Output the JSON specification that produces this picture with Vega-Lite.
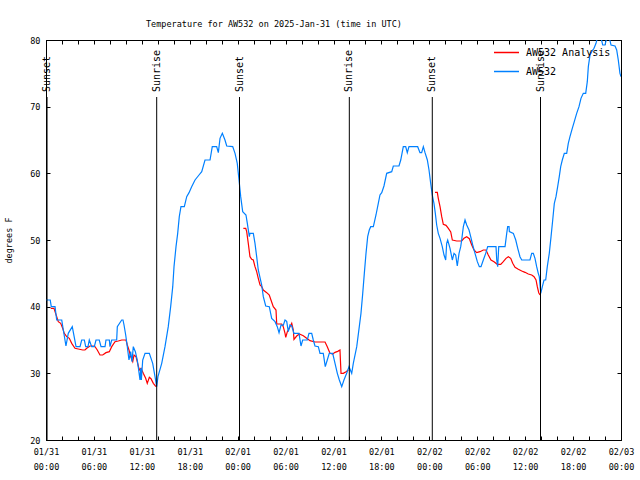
{
  "$schema": "https://vega.github.io/schema/vega-lite/v6.json",
  "width": 575,
  "height": 400,
  "autosize": {"type": "none"},
  "padding": {"left": 46, "top": 40, "right": 19, "bottom": 40},
  "background": "white",
  "title": {"text": "Temperature for AW532 on 2025-Jan-31 (time in UTC)", "anchor": "start", "frame": "group", "dx": 100, "offset": 8, "font": "DejaVu Sans Mono", "fontSize": 8.5, "fontWeight": "normal", "color": "black"},
  "config": {
    "view": {"stroke": "black", "strokeWidth": 1},
    "axis": {"domainColor": "black", "tickColor": "black", "labelColor": "black", "labelFont": "DejaVu Sans Mono", "labelFontSize": 8.5, "grid": false, "tickSize": -4, "tickWidth": 1, "titleFont": "DejaVu Sans Mono", "titleFontWeight": "normal", "titleFontSize": 8.5, "titleColor": "black"},
    "legend": {"labelFont": "DejaVu Sans Mono", "labelFontSize": 10, "labelColor": "black"}
  },
  "datasets": {
    "temps": [
      {"s":"AW532 Analysis","g":1,"h":0.59,"t":39.75},{"s":"AW532 Analysis","g":1,"h":1.0,"t":39.75},{"s":"AW532 Analysis","g":1,"h":1.13,"t":39.25},{"s":"AW532 Analysis","g":1,"h":1.34,"t":38.5},{"s":"AW532 Analysis","g":1,"h":1.54,"t":37.75},{"s":"AW532 Analysis","g":1,"h":1.84,"t":37.5},{"s":"AW532 Analysis","g":1,"h":2.09,"t":36.75},{"s":"AW532 Analysis","g":1,"h":2.29,"t":36.0},{"s":"AW532 Analysis","g":1,"h":2.59,"t":35.5},{"s":"AW532 Analysis","g":1,"h":2.92,"t":35.25},{"s":"AW532 Analysis","g":1,"h":3.22,"t":34.5},{"s":"AW532 Analysis","g":1,"h":3.63,"t":33.75},{"s":"AW532 Analysis","g":1,"h":4.04,"t":33.65},{"s":"AW532 Analysis","g":1,"h":4.6,"t":33.5},{"s":"AW532 Analysis","g":1,"h":4.88,"t":33.5},{"s":"AW532 Analysis","g":1,"h":5.1,"t":33.75},{"s":"AW532 Analysis","g":1,"h":5.51,"t":34.1},{"s":"AW532 Analysis","g":1,"h":5.92,"t":34.1},{"s":"AW532 Analysis","g":1,"h":6.14,"t":34.0},{"s":"AW532 Analysis","g":1,"h":6.42,"t":33.5},{"s":"AW532 Analysis","g":1,"h":6.76,"t":32.75},{"s":"AW532 Analysis","g":1,"h":7.1,"t":32.75},{"s":"AW532 Analysis","g":1,"h":7.51,"t":33.1},{"s":"AW532 Analysis","g":1,"h":7.93,"t":33.25},{"s":"AW532 Analysis","g":1,"h":8.23,"t":34.0},{"s":"AW532 Analysis","g":1,"h":8.64,"t":34.75},{"s":"AW532 Analysis","g":1,"h":9.05,"t":34.85},{"s":"AW532 Analysis","g":1,"h":9.48,"t":35.0},{"s":"AW532 Analysis","g":1,"h":10.02,"t":35.0},{"s":"AW532 Analysis","g":1,"h":10.18,"t":34.25},{"s":"AW532 Analysis","g":1,"h":10.39,"t":33.5},{"s":"AW532 Analysis","g":1,"h":10.6,"t":32.5},{"s":"AW532 Analysis","g":1,"h":10.86,"t":31.75},{"s":"AW532 Analysis","g":1,"h":11.02,"t":32.75},{"s":"AW532 Analysis","g":1,"h":11.27,"t":32.5},{"s":"AW532 Analysis","g":1,"h":11.48,"t":31.5},{"s":"AW532 Analysis","g":1,"h":11.68,"t":30.5},{"s":"AW532 Analysis","g":1,"h":11.9,"t":30.75},{"s":"AW532 Analysis","g":1,"h":12.18,"t":30.0},{"s":"AW532 Analysis","g":1,"h":12.48,"t":29.25},{"s":"AW532 Analysis","g":1,"h":12.68,"t":28.5},{"s":"AW532 Analysis","g":1,"h":12.94,"t":29.4},{"s":"AW532 Analysis","g":1,"h":13.15,"t":29.2},{"s":"AW532 Analysis","g":1,"h":13.44,"t":28.5},{"s":"AW532 Analysis","g":1,"h":13.77,"t":28.0},
      {"s":"AW532 Analysis","g":2,"h":24.71,"t":51.75},{"s":"AW532 Analysis","g":2,"h":25.01,"t":51.75},{"s":"AW532 Analysis","g":2,"h":25.13,"t":51.25},{"s":"AW532 Analysis","g":2,"h":25.33,"t":49.5},{"s":"AW532 Analysis","g":2,"h":25.54,"t":47.5},{"s":"AW532 Analysis","g":2,"h":25.76,"t":47.1},{"s":"AW532 Analysis","g":2,"h":25.96,"t":47.0},{"s":"AW532 Analysis","g":2,"h":26.17,"t":46.0},{"s":"AW532 Analysis","g":2,"h":26.38,"t":45.25},{"s":"AW532 Analysis","g":2,"h":26.58,"t":44.25},{"s":"AW532 Analysis","g":2,"h":26.8,"t":43.25},{"s":"AW532 Analysis","g":2,"h":27.01,"t":43.0},{"s":"AW532 Analysis","g":2,"h":27.21,"t":42.5},{"s":"AW532 Analysis","g":2,"h":27.64,"t":42.1},{"s":"AW532 Analysis","g":2,"h":27.96,"t":41.75},{"s":"AW532 Analysis","g":2,"h":28.17,"t":41.0},{"s":"AW532 Analysis","g":2,"h":28.46,"t":40.0},{"s":"AW532 Analysis","g":2,"h":28.8,"t":39.5},{"s":"AW532 Analysis","g":2,"h":28.89,"t":37.4},{"s":"AW532 Analysis","g":2,"h":29.51,"t":37.4},{"s":"AW532 Analysis","g":2,"h":29.71,"t":37.0},{"s":"AW532 Analysis","g":2,"h":29.93,"t":36.0},{"s":"AW532 Analysis","g":2,"h":30.02,"t":35.4},{"s":"AW532 Analysis","g":2,"h":30.22,"t":36.25},{"s":"AW532 Analysis","g":2,"h":30.47,"t":36.75},{"s":"AW532 Analysis","g":2,"h":30.77,"t":37.5},{"s":"AW532 Analysis","g":2,"h":30.97,"t":36.5},{"s":"AW532 Analysis","g":2,"h":31.05,"t":35.1},{"s":"AW532 Analysis","g":2,"h":31.39,"t":35.6},{"s":"AW532 Analysis","g":2,"h":31.72,"t":35.9},{"s":"AW532 Analysis","g":2,"h":32.22,"t":35.65},{"s":"AW532 Analysis","g":2,"h":32.64,"t":35.25},{"s":"AW532 Analysis","g":2,"h":33.06,"t":34.9},{"s":"AW532 Analysis","g":2,"h":33.68,"t":34.7},{"s":"AW532 Analysis","g":2,"h":34.94,"t":34.7},{"s":"AW532 Analysis","g":2,"h":35.22,"t":34.0},{"s":"AW532 Analysis","g":2,"h":35.56,"t":33.0},{"s":"AW532 Analysis","g":2,"h":35.9,"t":32.9},{"s":"AW532 Analysis","g":2,"h":36.19,"t":33.15},{"s":"AW532 Analysis","g":2,"h":36.53,"t":33.3},{"s":"AW532 Analysis","g":2,"h":36.81,"t":33.5},{"s":"AW532 Analysis","g":2,"h":36.94,"t":30.0},{"s":"AW532 Analysis","g":2,"h":37.23,"t":30.0},{"s":"AW532 Analysis","g":2,"h":37.57,"t":30.25},{"s":"AW532 Analysis","g":2,"h":37.85,"t":30.5},
      {"s":"AW532 Analysis","g":3,"h":48.71,"t":57.15},{"s":"AW532 Analysis","g":3,"h":49.0,"t":57.15},{"s":"AW532 Analysis","g":3,"h":49.12,"t":56.25},{"s":"AW532 Analysis","g":3,"h":49.34,"t":55.0},{"s":"AW532 Analysis","g":3,"h":49.55,"t":53.5},{"s":"AW532 Analysis","g":3,"h":49.75,"t":52.35},{"s":"AW532 Analysis","g":3,"h":50.09,"t":52.2},{"s":"AW532 Analysis","g":3,"h":50.38,"t":51.75},{"s":"AW532 Analysis","g":3,"h":50.68,"t":51.2},{"s":"AW532 Analysis","g":3,"h":50.88,"t":50.0},{"s":"AW532 Analysis","g":3,"h":51.43,"t":49.85},{"s":"AW532 Analysis","g":3,"h":52.05,"t":49.85},{"s":"AW532 Analysis","g":3,"h":52.34,"t":50.25},{"s":"AW532 Analysis","g":3,"h":52.68,"t":50.5},{"s":"AW532 Analysis","g":3,"h":53.01,"t":50.2},{"s":"AW532 Analysis","g":3,"h":53.31,"t":49.25},{"s":"AW532 Analysis","g":3,"h":53.59,"t":48.5},{"s":"AW532 Analysis","g":3,"h":53.93,"t":48.1},{"s":"AW532 Analysis","g":3,"h":54.34,"t":48.25},{"s":"AW532 Analysis","g":3,"h":54.76,"t":48.5},{"s":"AW532 Analysis","g":3,"h":55.1,"t":48.5},{"s":"AW532 Analysis","g":3,"h":55.38,"t":47.75},{"s":"AW532 Analysis","g":3,"h":55.72,"t":47.0},{"s":"AW532 Analysis","g":3,"h":56.1,"t":46.75},{"s":"AW532 Analysis","g":3,"h":56.51,"t":46.35},{"s":"AW532 Analysis","g":3,"h":56.94,"t":46.35},{"s":"AW532 Analysis","g":3,"h":57.26,"t":46.75},{"s":"AW532 Analysis","g":3,"h":57.6,"t":47.25},{"s":"AW532 Analysis","g":3,"h":57.89,"t":47.5},{"s":"AW532 Analysis","g":3,"h":58.19,"t":47.25},{"s":"AW532 Analysis","g":3,"h":58.44,"t":46.5},{"s":"AW532 Analysis","g":3,"h":58.73,"t":45.9},{"s":"AW532 Analysis","g":3,"h":59.14,"t":45.6},{"s":"AW532 Analysis","g":3,"h":59.57,"t":45.35},{"s":"AW532 Analysis","g":3,"h":59.98,"t":45.15},{"s":"AW532 Analysis","g":3,"h":60.39,"t":44.9},{"s":"AW532 Analysis","g":3,"h":60.82,"t":44.75},{"s":"AW532 Analysis","g":3,"h":61.11,"t":44.5},{"s":"AW532 Analysis","g":3,"h":61.36,"t":44.0},{"s":"AW532 Analysis","g":3,"h":61.52,"t":43.0},{"s":"AW532 Analysis","g":3,"h":61.7,"t":42.1},{"s":"AW532 Analysis","g":3,"h":61.86,"t":41.75},
      {"s":"AW532","g":0,"h":0.0,"t":41.0},{"s":"AW532","g":0,"h":0.29,"t":41.0},{"s":"AW532","g":0,"h":0.53,"t":41.0},{"s":"AW532","g":0,"h":0.66,"t":40.0},{"s":"AW532","g":0,"h":1.13,"t":40.0},{"s":"AW532","g":0,"h":1.34,"t":38.0},{"s":"AW532","g":0,"h":1.97,"t":38.0},{"s":"AW532","g":0,"h":2.17,"t":36.5},{"s":"AW532","g":0,"h":2.5,"t":34.1},{"s":"AW532","g":0,"h":2.79,"t":36.0},{"s":"AW532","g":0,"h":3.29,"t":37.0},{"s":"AW532","g":0,"h":3.76,"t":34.0},{"s":"AW532","g":0,"h":4.26,"t":34.0},{"s":"AW532","g":0,"h":4.47,"t":35.0},{"s":"AW532","g":0,"h":4.8,"t":35.0},{"s":"AW532","g":0,"h":4.97,"t":34.0},{"s":"AW532","g":0,"h":5.26,"t":34.0},{"s":"AW532","g":0,"h":5.42,"t":35.0},{"s":"AW532","g":0,"h":5.72,"t":34.0},{"s":"AW532","g":0,"h":6.05,"t":34.0},{"s":"AW532","g":0,"h":6.26,"t":35.0},{"s":"AW532","g":0,"h":6.67,"t":35.0},{"s":"AW532","g":0,"h":6.89,"t":34.0},{"s":"AW532","g":0,"h":7.39,"t":34.0},{"s":"AW532","g":0,"h":7.51,"t":35.0},{"s":"AW532","g":0,"h":7.93,"t":35.0},{"s":"AW532","g":0,"h":8.01,"t":34.0},{"s":"AW532","g":0,"h":8.23,"t":35.0},{"s":"AW532","g":0,"h":8.85,"t":35.0},{"s":"AW532","g":0,"h":8.93,"t":37.0},{"s":"AW532","g":0,"h":9.48,"t":38.0},{"s":"AW532","g":0,"h":9.64,"t":38.0},{"s":"AW532","g":0,"h":9.77,"t":37.25},{"s":"AW532","g":0,"h":9.98,"t":35.75},{"s":"AW532","g":0,"h":10.18,"t":34.0},{"s":"AW532","g":0,"h":10.39,"t":32.0},{"s":"AW532","g":0,"h":10.6,"t":33.25},{"s":"AW532","g":0,"h":10.77,"t":31.75},{"s":"AW532","g":0,"h":10.93,"t":34.0},{"s":"AW532","g":0,"h":11.19,"t":33.25},{"s":"AW532","g":0,"h":11.43,"t":32.0},{"s":"AW532","g":0,"h":11.77,"t":29.0},{"s":"AW532","g":0,"h":11.86,"t":30.75},{"s":"AW532","g":0,"h":11.94,"t":29.0},{"s":"AW532","g":0,"h":12.11,"t":32.0},{"s":"AW532","g":0,"h":12.4,"t":33.0},{"s":"AW532","g":0,"h":12.94,"t":33.0},{"s":"AW532","g":0,"h":13.36,"t":31.5},{"s":"AW532","g":0,"h":13.65,"t":29.5},{"s":"AW532","g":0,"h":13.86,"t":28.0},{"s":"AW532","g":0,"h":14.02,"t":29.5},{"s":"AW532","g":0,"h":14.49,"t":31.5},{"s":"AW532","g":0,"h":14.9,"t":34.0},{"s":"AW532","g":0,"h":15.31,"t":37.0},{"s":"AW532","g":0,"h":15.61,"t":40.0},{"s":"AW532","g":0,"h":15.87,"t":43.0},{"s":"AW532","g":0,"h":16.03,"t":46.0},{"s":"AW532","g":0,"h":16.28,"t":49.0},{"s":"AW532","g":0,"h":16.49,"t":51.0},{"s":"AW532","g":0,"h":16.69,"t":53.5},{"s":"AW532","g":0,"h":16.9,"t":55.0},{"s":"AW532","g":0,"h":17.32,"t":55.0},{"s":"AW532","g":0,"h":17.62,"t":56.5},{"s":"AW532","g":0,"h":17.91,"t":57.1},{"s":"AW532","g":0,"h":18.24,"t":58.0},{"s":"AW532","g":0,"h":18.66,"t":59.0},{"s":"AW532","g":0,"h":19.16,"t":59.75},{"s":"AW532","g":0,"h":19.5,"t":60.25},{"s":"AW532","g":0,"h":19.91,"t":62.0},{"s":"AW532","g":0,"h":20.54,"t":62.0},{"s":"AW532","g":0,"h":20.82,"t":64.0},{"s":"AW532","g":0,"h":21.37,"t":64.0},{"s":"AW532","g":0,"h":21.58,"t":63.1},{"s":"AW532","g":0,"h":21.79,"t":65.25},{"s":"AW532","g":0,"h":22.08,"t":66.0},{"s":"AW532","g":0,"h":22.41,"t":65.0},{"s":"AW532","g":0,"h":22.63,"t":64.1},{"s":"AW532","g":0,"h":23.38,"t":64.0},{"s":"AW532","g":0,"h":23.67,"t":63.0},{"s":"AW532","g":0,"h":23.95,"t":61.5},{"s":"AW532","g":0,"h":24.17,"t":59.0},{"s":"AW532","g":0,"h":24.38,"t":56.5},{"s":"AW532","g":0,"h":24.63,"t":54.25},{"s":"AW532","g":0,"h":25.04,"t":53.75},{"s":"AW532","g":0,"h":25.21,"t":52.5},{"s":"AW532","g":0,"h":25.46,"t":50.5},{"s":"AW532","g":0,"h":25.54,"t":51.0},{"s":"AW532","g":0,"h":25.96,"t":51.0},{"s":"AW532","g":0,"h":26.17,"t":49.5},{"s":"AW532","g":0,"h":26.38,"t":47.5},{"s":"AW532","g":0,"h":26.58,"t":45.5},{"s":"AW532","g":0,"h":27.01,"t":43.25},{"s":"AW532","g":0,"h":27.21,"t":41.5},{"s":"AW532","g":0,"h":27.51,"t":40.1},{"s":"AW532","g":0,"h":27.96,"t":40.0},{"s":"AW532","g":0,"h":28.26,"t":38.25},{"s":"AW532","g":0,"h":28.68,"t":37.75},{"s":"AW532","g":0,"h":28.96,"t":37.0},{"s":"AW532","g":0,"h":29.18,"t":36.1},{"s":"AW532","g":0,"h":29.43,"t":37.25},{"s":"AW532","g":0,"h":29.71,"t":37.2},{"s":"AW532","g":0,"h":29.93,"t":38.0},{"s":"AW532","g":0,"h":30.14,"t":37.8},{"s":"AW532","g":0,"h":30.34,"t":36.25},{"s":"AW532","g":0,"h":30.55,"t":37.25},{"s":"AW532","g":0,"h":30.77,"t":37.1},{"s":"AW532","g":0,"h":31.05,"t":36.0},{"s":"AW532","g":0,"h":31.68,"t":36.0},{"s":"AW532","g":0,"h":31.93,"t":34.1},{"s":"AW532","g":0,"h":32.14,"t":35.0},{"s":"AW532","g":0,"h":32.72,"t":35.0},{"s":"AW532","g":0,"h":32.93,"t":36.0},{"s":"AW532","g":0,"h":33.27,"t":36.0},{"s":"AW532","g":0,"h":33.47,"t":35.0},{"s":"AW532","g":0,"h":33.68,"t":34.1},{"s":"AW532","g":0,"h":34.1,"t":34.0},{"s":"AW532","g":0,"h":34.31,"t":33.0},{"s":"AW532","g":0,"h":34.72,"t":33.0},{"s":"AW532","g":0,"h":34.97,"t":31.0},{"s":"AW532","g":0,"h":35.22,"t":32.0},{"s":"AW532","g":0,"h":35.47,"t":33.0},{"s":"AW532","g":0,"h":35.9,"t":33.0},{"s":"AW532","g":0,"h":36.19,"t":31.5},{"s":"AW532","g":0,"h":36.48,"t":30.0},{"s":"AW532","g":0,"h":36.73,"t":29.0},{"s":"AW532","g":0,"h":37.03,"t":28.0},{"s":"AW532","g":0,"h":37.31,"t":29.0},{"s":"AW532","g":0,"h":37.65,"t":30.0},{"s":"AW532","g":0,"h":37.94,"t":31.0},{"s":"AW532","g":0,"h":38.28,"t":30.0},{"s":"AW532","g":0,"h":38.48,"t":31.5},{"s":"AW532","g":0,"h":38.91,"t":34.0},{"s":"AW532","g":0,"h":39.23,"t":37.0},{"s":"AW532","g":0,"h":39.44,"t":39.0},{"s":"AW532","g":0,"h":39.66,"t":42.0},{"s":"AW532","g":0,"h":39.86,"t":45.0},{"s":"AW532","g":0,"h":40.07,"t":48.0},{"s":"AW532","g":0,"h":40.28,"t":50.5},{"s":"AW532","g":0,"h":40.48,"t":51.5},{"s":"AW532","g":0,"h":40.66,"t":52.0},{"s":"AW532","g":0,"h":40.99,"t":52.0},{"s":"AW532","g":0,"h":41.32,"t":53.75},{"s":"AW532","g":0,"h":41.61,"t":55.5},{"s":"AW532","g":0,"h":41.82,"t":56.75},{"s":"AW532","g":0,"h":42.04,"t":57.1},{"s":"AW532","g":0,"h":42.32,"t":58.1},{"s":"AW532","g":0,"h":42.66,"t":60.0},{"s":"AW532","g":0,"h":43.29,"t":60.25},{"s":"AW532","g":0,"h":43.49,"t":61.1},{"s":"AW532","g":0,"h":44.2,"t":61.1},{"s":"AW532","g":0,"h":44.42,"t":62.0},{"s":"AW532","g":0,"h":44.74,"t":64.0},{"s":"AW532","g":0,"h":45.04,"t":64.0},{"s":"AW532","g":0,"h":45.24,"t":63.1},{"s":"AW532","g":0,"h":45.45,"t":64.0},{"s":"AW532","g":0,"h":46.54,"t":64.0},{"s":"AW532","g":0,"h":46.83,"t":63.1},{"s":"AW532","g":0,"h":47.04,"t":63.1},{"s":"AW532","g":0,"h":47.25,"t":64.0},{"s":"AW532","g":0,"h":47.46,"t":63.1},{"s":"AW532","g":0,"h":47.75,"t":62.0},{"s":"AW532","g":0,"h":47.96,"t":60.5},{"s":"AW532","g":0,"h":48.17,"t":58.5},{"s":"AW532","g":0,"h":48.37,"t":56.75},{"s":"AW532","g":0,"h":48.58,"t":55.5},{"s":"AW532","g":0,"h":48.75,"t":54.0},{"s":"AW532","g":0,"h":48.92,"t":52.25},{"s":"AW532","g":0,"h":49.12,"t":51.0},{"s":"AW532","g":0,"h":49.34,"t":50.25},{"s":"AW532","g":0,"h":49.62,"t":49.0},{"s":"AW532","g":0,"h":49.84,"t":47.75},{"s":"AW532","g":0,"h":50.05,"t":47.0},{"s":"AW532","g":0,"h":50.17,"t":49.5},{"s":"AW532","g":0,"h":50.3,"t":50.0},{"s":"AW532","g":0,"h":50.59,"t":48.75},{"s":"AW532","g":0,"h":50.88,"t":47.0},{"s":"AW532","g":0,"h":51.09,"t":48.0},{"s":"AW532","g":0,"h":51.3,"t":47.75},{"s":"AW532","g":0,"h":51.5,"t":46.1},{"s":"AW532","g":0,"h":51.72,"t":48.0},{"s":"AW532","g":0,"h":51.93,"t":49.0},{"s":"AW532","g":0,"h":52.05,"t":50.0},{"s":"AW532","g":0,"h":52.26,"t":52.0},{"s":"AW532","g":0,"h":52.47,"t":53.0},{"s":"AW532","g":0,"h":52.68,"t":52.25},{"s":"AW532","g":0,"h":52.97,"t":51.5},{"s":"AW532","g":0,"h":53.18,"t":50.5},{"s":"AW532","g":0,"h":53.43,"t":49.25},{"s":"AW532","g":0,"h":53.72,"t":48.0},{"s":"AW532","g":0,"h":54.01,"t":46.75},{"s":"AW532","g":0,"h":54.26,"t":46.0},{"s":"AW532","g":0,"h":54.47,"t":46.0},{"s":"AW532","g":0,"h":54.76,"t":47.0},{"s":"AW532","g":0,"h":55.06,"t":48.0},{"s":"AW532","g":0,"h":55.31,"t":49.0},{"s":"AW532","g":0,"h":56.35,"t":49.0},{"s":"AW532","g":0,"h":56.44,"t":47.0},{"s":"AW532","g":0,"h":56.56,"t":46.0},{"s":"AW532","g":0,"h":56.69,"t":49.0},{"s":"AW532","g":0,"h":57.48,"t":49.0},{"s":"AW532","g":0,"h":57.69,"t":51.0},{"s":"AW532","g":0,"h":57.81,"t":52.0},{"s":"AW532","g":0,"h":57.98,"t":52.0},{"s":"AW532","g":0,"h":58.02,"t":51.25},{"s":"AW532","g":0,"h":58.52,"t":51.0},{"s":"AW532","g":0,"h":58.82,"t":50.0},{"s":"AW532","g":0,"h":59.07,"t":48.75},{"s":"AW532","g":0,"h":59.35,"t":47.5},{"s":"AW532","g":0,"h":59.57,"t":47.0},{"s":"AW532","g":0,"h":60.6,"t":47.0},{"s":"AW532","g":0,"h":60.82,"t":48.0},{"s":"AW532","g":0,"h":61.02,"t":48.0},{"s":"AW532","g":0,"h":61.23,"t":47.25},{"s":"AW532","g":0,"h":61.44,"t":46.0},{"s":"AW532","g":0,"h":61.64,"t":45.0},{"s":"AW532","g":0,"h":61.77,"t":44.5},{"s":"AW532","g":0,"h":61.95,"t":42.0},{"s":"AW532","g":0,"h":62.15,"t":43.0},{"s":"AW532","g":0,"h":62.36,"t":44.0},{"s":"AW532","g":0,"h":62.57,"t":44.0},{"s":"AW532","g":0,"h":62.77,"t":46.0},{"s":"AW532","g":0,"h":63.02,"t":48.0},{"s":"AW532","g":0,"h":63.24,"t":50.5},{"s":"AW532","g":0,"h":63.45,"t":53.0},{"s":"AW532","g":0,"h":63.65,"t":55.5},{"s":"AW532","g":0,"h":63.86,"t":56.5},{"s":"AW532","g":0,"h":64.07,"t":58.0},{"s":"AW532","g":0,"h":64.27,"t":59.5},{"s":"AW532","g":0,"h":64.45,"t":61.0},{"s":"AW532","g":0,"h":64.65,"t":62.0},{"s":"AW532","g":0,"h":64.9,"t":63.0},{"s":"AW532","g":0,"h":65.2,"t":63.0},{"s":"AW532","g":0,"h":65.4,"t":64.5},{"s":"AW532","g":0,"h":65.61,"t":65.5},{"s":"AW532","g":0,"h":65.9,"t":66.75},{"s":"AW532","g":0,"h":66.15,"t":67.75},{"s":"AW532","g":0,"h":66.45,"t":69.0},{"s":"AW532","g":0,"h":66.74,"t":70.0},{"s":"AW532","g":0,"h":66.99,"t":71.25},{"s":"AW532","g":0,"h":67.28,"t":72.0},{"s":"AW532","g":0,"h":67.58,"t":72.0},{"s":"AW532","g":0,"h":67.78,"t":73.75},{"s":"AW532","g":0,"h":67.91,"t":76.0},{"s":"AW532","g":0,"h":68.12,"t":77.75},{"s":"AW532","g":0,"h":68.33,"t":78.25},{"s":"AW532","g":0,"h":68.62,"t":78.75},{"s":"AW532","g":0,"h":68.87,"t":79.5},{"s":"AW532","g":0,"h":69.04,"t":80.3},{"s":"AW532","g":0,"h":69.5,"t":80.3},{"s":"AW532","g":0,"h":69.71,"t":79.25},{"s":"AW532","g":0,"h":70.0,"t":79.25},{"s":"AW532","g":0,"h":70.21,"t":80.3},{"s":"AW532","g":0,"h":70.54,"t":80.3},{"s":"AW532","g":0,"h":70.75,"t":79.25},{"s":"AW532","g":0,"h":71.25,"t":79.1},{"s":"AW532","g":0,"h":71.46,"t":78.5},{"s":"AW532","g":0,"h":71.66,"t":77.0},{"s":"AW532","g":0,"h":71.87,"t":75.0},{"s":"AW532","g":0,"h":72.0,"t":74.5}
    ],
    "events": [
      {"h": 0.13, "label": "Sunset"},
      {"h": 13.86, "label": "Sunrise"},
      {"h": 24.23, "label": "Sunset"},
      {"h": 37.98, "label": "Sunrise"},
      {"h": 48.37, "label": "Sunset"},
      {"h": 61.92, "label": "Sunrise"}
    ]
  },
  "layer": [
    {
      "data": {"name": "temps"},
      "mark": {"type": "line", "clip": true, "strokeWidth": 1.2},
      "encoding": {
        "x": {"field": "h", "type": "quantitative", "scale": {"domain": [0, 72], "nice": false, "zero": false},
          "axis": {"orient": "bottom", "title": null, "values": [0,2,4,6,8,10,12,14,16,18,20,22,24,26,28,30,32,34,36,38,40,42,44,46,48,50,52,54,56,58,60,62,64,66,68,70,72], "labelFlush": false, "labelOverlap": false, "labelPadding": 11, "labelLineHeight": 15, "labelBaseline": "top",
            "labelExpr": "datum.value % 6 == 0 ? [datum.value < 24 ? '01/31' : datum.value < 48 ? '02/01' : datum.value < 72 ? '02/02' : '02/03', (datum.value % 24 < 10 ? '0' : '') + (datum.value % 24) + ':00'] : ''"}},
        "y": {"field": "t", "type": "quantitative", "scale": {"domain": [20, 80], "nice": false, "zero": false},
          "axis": {"orient": "left", "title": "degrees F", "values": [20,30,40,50,60,70,80], "labelPadding": 10, "titlePadding": 16}},
        "color": {"field": "s", "type": "nominal", "scale": {"domain": ["AW532 Analysis", "AW532"], "range": ["#ff0000", "#0080ff"]},
          "legend": {"title": null, "orient": "none", "legendX": 447, "legendY": -1, "padding": 0, "symbolType": "stroke", "symbolSize": 625, "symbolStrokeWidth": 1.5, "rowPadding": -11, "labelOffset": 6}},
        "detail": {"field": "g"}
      }
    },
    {
      "data": {"name": "events"},
      "mark": {"type": "rule", "color": "black", "strokeWidth": 1},
      "encoding": {
        "x": {"field": "h", "type": "quantitative", "axis": {"orient": "top", "title": null, "labels": false, "values": [0,2,4,6,8,10,12,14,16,18,20,22,24,26,28,30,32,34,36,38,40,42,44,46,48,50,52,54,56,58,60,62,64,66,68,70,72]}},
        "y": {"datum": 20, "type": "quantitative", "axis": {"orient": "right", "title": null, "labels": false, "values": [20,30,40,50,60,70,80]}},
        "y2": {"datum": 71.45}
      }
    },
    {
      "data": {"name": "events"},
      "mark": {"type": "text", "angle": 270, "align": "left", "baseline": "middle", "font": "DejaVu Sans Mono", "fontSize": 10, "color": "black"},
      "encoding": {
        "x": {"field": "h", "type": "quantitative", "axis": null},
        "y": {"datum": 72.2, "type": "quantitative", "axis": null},
        "text": {"field": "label"}
      }
    }
  ],
  "resolve": {"axis": {"x": "independent", "y": "independent"}}
}
